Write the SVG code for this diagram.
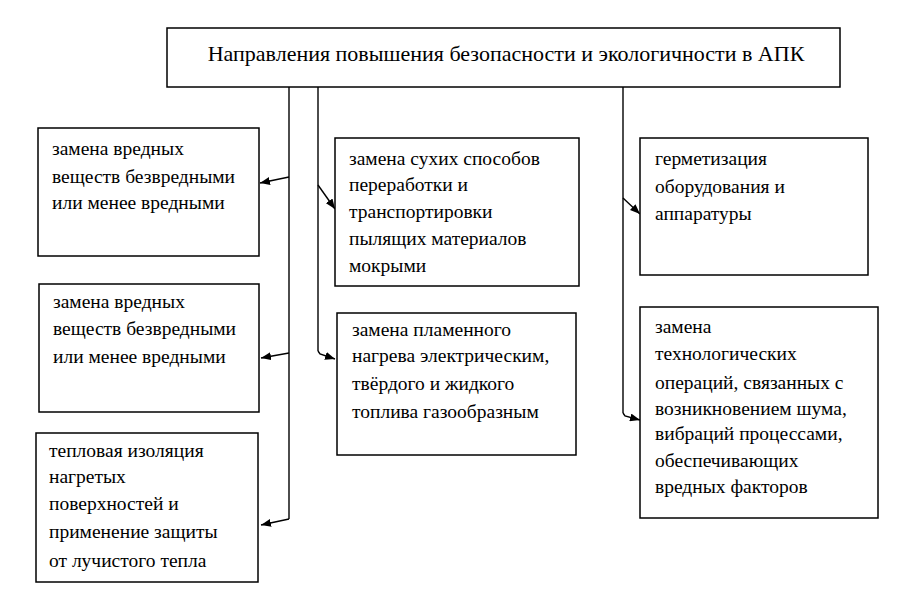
<svg xmlns="http://www.w3.org/2000/svg" width="915" height="616" viewBox="0 0 915 616">
<defs>
<marker id="ah" viewBox="0 0 10 8" refX="10" refY="4" markerWidth="10" markerHeight="8" markerUnits="userSpaceOnUse" orient="auto">
<path d="M0,0 L10,4 L0,8 Z" fill="#000"/>
</marker>
</defs>
<style>
.box{fill:#fff;stroke:#000;stroke-width:1.5}
.t{font-family:"Liberation Serif","Times New Roman",serif;font-size:19.5px;fill:#000}
.title{font-family:"Liberation Serif","Times New Roman",serif;font-size:22px;fill:#000}
.c{fill:none;stroke:#000;stroke-width:1.4}
.ca{fill:none;stroke:#000;stroke-width:1.4;marker-end:url(#ah)}
</style>
<rect width="915" height="616" fill="#fff"/>
<g id="connectors">
<line class="c" x1="289" y1="87" x2="289" y2="519"/>
<line class="c" x1="318" y1="87" x2="318" y2="351"/>
<line class="c" x1="623" y1="87" x2="623" y2="413"/>
<line class="ca" x1="289" y1="177" x2="260" y2="183"/>
<line class="ca" x1="289" y1="353" x2="261" y2="358"/>
<line class="ca" x1="289" y1="519" x2="261" y2="525"/>
<line class="ca" x1="318" y1="185" x2="335" y2="209"/>
<polyline class="ca" points="318,351 320,354 335,359"/>
<line class="ca" x1="623" y1="198" x2="640" y2="214"/>
<polyline class="ca" points="623,413 625,416 640,420"/>
</g>
<g id="title">
<rect class="box" x="167" y="28" width="673" height="59"/>
<text class="title" x="506" y="61" text-anchor="middle">Направления повышения безопасности и экологичности в АПК</text>
</g>
<g id="L1">
<rect class="box" x="38" y="128" width="221" height="128"/>
<text class="t" x="52" y="155">замена вредных</text>
<text class="t" x="52" y="183">веществ безвредными</text>
<text class="t" x="52" y="209">или менее вредными</text>
</g>
<g id="L2">
<rect class="box" x="39" y="284" width="220" height="128"/>
<text class="t" x="53" y="308">замена вредных</text>
<text class="t" x="53" y="335">веществ безвредными</text>
<text class="t" x="53" y="363">или менее вредными</text>
</g>
<g id="L3">
<rect class="box" x="36" y="433" width="222" height="149"/>
<text class="t" x="49" y="457">тепловая изоляция</text>
<text class="t" x="49" y="483">нагретых</text>
<text class="t" x="49" y="510">поверхностей и</text>
<text class="t" x="49" y="538">применение защиты</text>
<text class="t" x="49" y="567">от лучистого тепла</text>
</g>
<g id="M1">
<rect class="box" x="335" y="138" width="244" height="148"/>
<text class="t" x="349" y="165">замена сухих способов</text>
<text class="t" x="349" y="191">переработки и</text>
<text class="t" x="349" y="218">транспортировки</text>
<text class="t" x="349" y="245">пылящих материалов</text>
<text class="t" x="349" y="272">мокрыми</text>
</g>
<g id="M2">
<rect class="box" x="337" y="313" width="239" height="142"/>
<text class="t" x="352" y="336">замена пламенного</text>
<text class="t" x="352" y="362">нагрева электрическим,</text>
<text class="t" x="352" y="390">твёрдого и жидкого</text>
<text class="t" x="352" y="418">топлива газообразным</text>
</g>
<g id="R1">
<rect class="box" x="640" y="138" width="228" height="137"/>
<text class="t" x="655" y="165">герметизация</text>
<text class="t" x="655" y="193">оборудования и</text>
<text class="t" x="655" y="220">аппаратуры</text>
</g>
<g id="R2">
<rect class="box" x="640" y="307" width="238" height="211"/>
<text class="t" x="655" y="333">замена</text>
<text class="t" x="655" y="360">технологических</text>
<text class="t" x="655" y="389">операций, связанных с</text>
<text class="t" x="655" y="415">возникновением шума,</text>
<text class="t" x="655" y="440">вибраций процессами,</text>
<text class="t" x="655" y="467">обеспечивающих</text>
<text class="t" x="655" y="493">вредных факторов</text>
</g>
</svg>
